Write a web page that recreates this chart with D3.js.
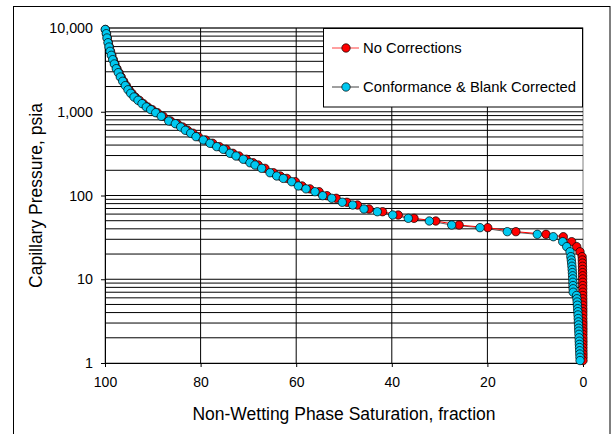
<!DOCTYPE html>
<html>
<head>
<meta charset="utf-8">
<script src="https://cdn.jsdelivr.net/npm/d3@7"></script>
<style>
  html, body { margin: 0; padding: 0; background: #fff; }
  svg { display: block; font-family: "Liberation Sans", Arial, sans-serif; }
</style>
</head>
<body>
<svg id="chart" width="613" height="434"></svg>
<script>
// ---- data ----
const pressure = [9600, 8550, 7600, 6670, 5930, 5270, 4720, 4190, 3720, 3270, 2930, 2600, 2310, 2050, 1830, 1660, 1500, 1370, 1250, 1140, 1060, 975, 883, 776, 720, 657, 601, 554, 504, 460, 420, 383, 356, 319, 296, 271, 246, 231, 211, 187, 171, 160, 146, 130, 120, 111, 99.5, 92.6, 83, 77, 69, 64, 58.5, 53.4, 49.6, 44.4, 41.3, 37, 34.4, 32.2, 28.1, 24.5, 21.3, 18.6,
  17.0, 15.6, 14.3, 13.1, 12.0, 11.0, 10.1, 9.2, 8.4, 7.7, 7.0,
  6.4, 5.85, 5.35, 4.9, 4.45, 4.1, 3.75, 3.4, 3.1, 2.85, 2.6, 2.4, 2.2, 2.0, 1.82, 1.67, 1.53, 1.4, 1.28, 1.17, 1.07];

const satCorrected = [99.94, 99.73, 99.58, 99.37, 99.16, 98.95, 98.68, 98.39, 98.05, 97.64, 97.22, 96.80, 96.30, 95.75, 95.19, 94.62, 93.93, 93.10, 92.26, 91.36, 90.44, 89.39, 88.22, 86.67, 85.29, 84.16, 83.20, 82.07, 80.96, 79.44, 78.03, 76.63, 75.25, 73.85, 72.59, 71.07, 69.67, 68.62, 67.22, 65.48, 64.08, 62.70, 60.94, 59.56, 57.95, 56.07, 54.46, 52.57, 50.36, 48.18, 45.82, 43.03, 39.81, 36.55, 32.15, 27.47, 21.55, 15.84, 9.56, 6.21, 4.25, 3.41, 2.72, 2.55,
  2.45, 2.38, 2.32, 2.27, 2.22, 2.18, 2.15, 2.12, 2.10, 2.07, 2.05,
  1.35, 1.28, 1.22, 1.17, 1.12, 1.08, 1.04, 1.00, 0.97, 0.94, 0.91, 0.88, 0.85, 0.82, 0.79, 0.76, 0.73, 0.70, 0.67, 0.64, 0.62];

const satRaw = [99.91, 99.68, 99.51, 99.29, 99.06, 98.84, 98.56, 98.26, 97.91, 97.49, 97.05, 96.61, 96.10, 95.53, 94.96, 94.37, 93.67, 92.82, 91.97, 91.06, 90.11, 89.04, 87.85, 86.28, 84.88, 83.73, 82.75, 81.60, 80.47, 78.94, 77.48, 76.06, 74.66, 73.25, 71.97, 70.43, 69.01, 67.95, 66.53, 64.77, 63.35, 61.95, 60.17, 58.77, 57.13, 55.21, 53.56, 51.64, 49.39, 47.18, 44.77, 41.93, 38.66, 35.35, 30.80, 25.92, 19.93, 14.04, 7.74, 4.12, 2.37, 1.32, 0.63, 0.18,
  0.15, 0.13, 0.11, 0.10, 0.09, 0.08, 0.07, 0.06, 0.06, 0.05, 0.05,
  0.05, 0.04, 0.04, 0.04, 0.03, 0.03, 0.03, 0.03, 0.02, 0.02, 0.02, 0.02, 0.02, 0.01, 0.01, 0.01, 0.01, 0.01, 0.0, 0.0, 0.0];

const xTicks = [100, 80, 60, 40, 20, 0];
const yTicks = [1, 10, 100, 1000, 10000];
const yTickLabels = ["1", "10", "100", "1,000", "10,000"];
const seriesNames = ["No Corrections", "Conformance & Blank Corrected"];
const xTitle = "Non-Wetting Phase Saturation, fraction";
const yTitle = "Capillary Pressure, psia";

// ---- layout ----
const L = 105, R = 583, T = 28, B = 363;
const svg = d3.select("#chart");

const x = d3.scaleLinear().domain([100, 0]).range([L, R]);
const y = d3.scaleLog().domain([1, 10000]).range([B, T]);

// outer chart border
svg.append("rect").attr("x", 13.5).attr("y", 6.5).attr("width", 596.5).attr("height", 460)
  .attr("fill", "#fff").attr("stroke", "#000").attr("stroke-width", 1);

// plot area
svg.append("rect").attr("x", L).attr("y", T).attr("width", R - L).attr("height", B - T)
  .attr("fill", "#fff").attr("stroke", "#808080").attr("stroke-width", 1);

// horizontal log gridlines (major + minor)
const minor = [];
for (let d = 1; d < 10000; d *= 10) for (let k = 1; k <= 9; k++) minor.push(d * k);
minor.push(10000);
svg.append("g").selectAll("line").data(minor.filter(v => v > 1)).join("line")
  .attr("x1", L).attr("x2", R).attr("y1", d => y(d)).attr("y2", d => y(d))
  .attr("stroke", "#000").attr("stroke-width", 1);

// vertical gridlines
svg.append("g").selectAll("line").data(xTicks.filter(v => v !== 100 && v !== 0)).join("line")
  .attr("x1", d => x(d)).attr("x2", d => x(d)).attr("y1", T).attr("y2", B)
  .attr("stroke", "#000").attr("stroke-width", 1);

// axes
const xAxis = d3.axisBottom(x).tickValues(xTicks).tickSize(4).tickSizeOuter(0).tickFormat(d3.format("d"));
const gx = svg.append("g").attr("transform", `translate(0,${B})`).call(xAxis);
gx.select(".domain").attr("stroke", "#000");
gx.selectAll(".tick line").attr("stroke", "#000");
gx.selectAll(".tick text").attr("font-size", 14).attr("fill", "#000").attr("dy", "1.2em")
  .attr("font-family", "'Liberation Sans', Arial, sans-serif");

const yAxis = d3.axisLeft(y).tickValues(yTicks).tickSize(4).tickSizeOuter(0)
  .tickFormat((d, i) => yTickLabels[i]);
const gy = svg.append("g").attr("transform", `translate(${L},0)`).call(yAxis);
gy.select(".domain").attr("stroke", "#000");
gy.selectAll(".tick line").attr("stroke", "#000");
gy.selectAll(".tick text").attr("font-size", 14.3).attr("fill", "#000").attr("x", -12)
  .attr("font-family", "'Liberation Sans', Arial, sans-serif");

// titles
svg.append("text").attr("x", (L + R) / 2).attr("y", 420).attr("text-anchor", "middle")
  .attr("font-size", 17.5).attr("fill", "#000").text(xTitle);
svg.append("text").attr("transform", `translate(41.5,${(T + B) / 2}) rotate(-90)`)
  .attr("text-anchor", "middle").attr("font-size", 17.5).attr("fill", "#000").text(yTitle);

// series
const rawData = pressure.map((p, i) => ({ p, s: satRaw[i] }));
const corData = pressure.map((p, i) => ({ p, s: satCorrected[i] }));
const line = d3.line().x(d => x(d.s)).y(d => y(d.p));

const plot = svg.append("g");
plot.append("path").datum(corData).attr("d", line).attr("fill", "none")
  .attr("stroke", "#333").attr("stroke-width", 0.8);
plot.append("path").datum(rawData).attr("d", line).attr("fill", "none")
  .attr("stroke", "#FF0000").attr("stroke-width", 1);

const RED = "#FF0000", CYAN = "#00C8F0";
plot.append("g").selectAll("circle").data(rawData).join("circle")
  .attr("cx", d => x(d.s)).attr("cy", d => y(d.p)).attr("r", 4.2)
  .attr("fill", RED).attr("stroke", "#000").attr("stroke-width", 0.7);
plot.append("g").selectAll("circle").data(corData).join("circle")
  .attr("cx", d => x(d.s)).attr("cy", d => y(d.p)).attr("r", 4.2)
  .attr("fill", CYAN).attr("stroke", "#000").attr("stroke-width", 0.7);

// legend
const lg = svg.append("g");
lg.append("rect").attr("x", 323.5).attr("y", 28.5).attr("width", 259).attr("height", 78.5)
  .attr("fill", "#fff").attr("stroke", "#000").attr("stroke-width", 1);
const legendItems = [
  { name: seriesNames[0], color: RED, lineColor: "#FF4040", y: 48 },
  { name: seriesNames[1], color: CYAN, lineColor: "#404040", y: 87 }
];
legendItems.forEach(it => {
  lg.append("line").attr("x1", 332).attr("x2", 359).attr("y1", it.y).attr("y2", it.y)
    .attr("stroke", it.lineColor).attr("stroke-width", 1);
  lg.append("circle").attr("cx", 346).attr("cy", it.y).attr("r", 4.2)
    .attr("fill", it.color).attr("stroke", "#000").attr("stroke-width", 0.7);
  lg.append("text").attr("x", 363).attr("y", it.y).attr("dy", "0.36em")
    .attr("font-size", 14.8).attr("fill", "#000").text(it.name);
});
</script>
</body>
</html>
